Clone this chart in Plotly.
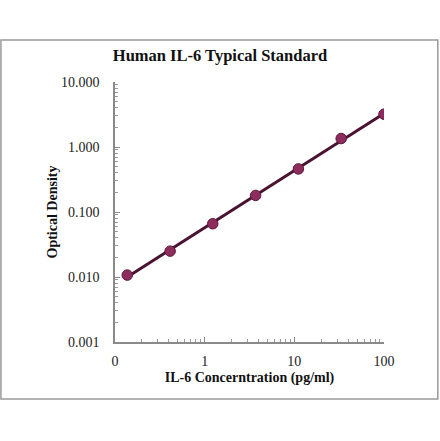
# Human IL-6 typical standard curve (log-log)

import numpy as np
import plotly.graph_objs as go

# standard concentrations (pg/ml) and optical density readings
conc = [0.137, 0.412, 1.23, 3.70, 11.1, 33.3, 100]
od = [0.0107, 0.025, 0.066, 0.18, 0.46, 1.35, 3.2]

x_tickvals = [0.1, 1, 10, 100]
x_ticktext = ['0', '1', '10', '100']
y_tickvals = [0.001, 0.01, 0.1, 1, 10]
y_ticktext = ['0.001', '0.010', '0.100', '1.000', '10.000']

# power fit through the standards
slope, intercept = np.polyfit(np.log10(conc), np.log10(od), 1)
fit_x = np.array([conc[0], conc[-1]])
fit_y = 10 ** (intercept + slope * np.log10(fit_x))

serif = 'Liberation Serif'

data = [
    go.Scatter(x=fit_x, y=fit_y, mode='lines',
               line=dict(color='#4a1430', width=3),
               hoverinfo='skip', showlegend=False),
    go.Scatter(x=conc, y=od, mode='markers',
               marker=dict(size=10.5, color='#8e2c5e',
                           line=dict(color='#5a1838', width=1)),
               showlegend=False),
]

axis_common = dict(
    type='log',
    showgrid=False,
    zeroline=False,
    showline=True,
    linecolor='#8a8a8a',
    linewidth=1.5,
    ticks='inside',
    ticklen=5,
    tickcolor='#8a8a8a',
    minor=dict(ticks='inside', ticklen=3, tickcolor='#9a9a9a', dtick='D1'),
    tickfont=dict(family=serif, size=14, color='#222222'),
)

layout = go.Layout(
    width=440, height=441,
    margin=dict(l=115, r=56, t=82, b=99),
    paper_bgcolor='white',
    plot_bgcolor='white',
    title=dict(text='<b>Human IL-6 Typical Standard</b>',
               x=0.5, xanchor='center', y=0.875, yanchor='middle',
               font=dict(family=serif, size=16.5, color='#111111')),
    xaxis=dict(axis_common,
               range=[-1, 2],
               tickvals=x_tickvals, ticktext=x_ticktext,
               ticklabelstandoff=5,
               title=dict(text='<b>IL-6 Concerntration (pg/ml)</b>',
                          font=dict(family=serif, size=14, color='#111111'),
                          standoff=5)),
    yaxis=dict(axis_common,
               range=[-3, 1],
               tickvals=y_tickvals, ticktext=y_ticktext,
               ticklabelstandoff=11,
               title=dict(text='<b>Optical Density</b>',
                          font=dict(family=serif, size=14, color='#111111'),
                          standoff=0)),
    shapes=[dict(type='rect', xref='paper', yref='paper',
                 x0=-0.424, x1=1.2, y0=-0.219, y1=1.1615,
                 line=dict(color='#999999', width=1.5))],
    hovermode='closest',
)

fig = go.Figure(data=data, layout=layout)

# drop the browser's default body margin so the figure sits at the page corner
fig.write_html('out.html', config={'displayModeBar': False},
               post_script="document.body.style.margin='0';")
